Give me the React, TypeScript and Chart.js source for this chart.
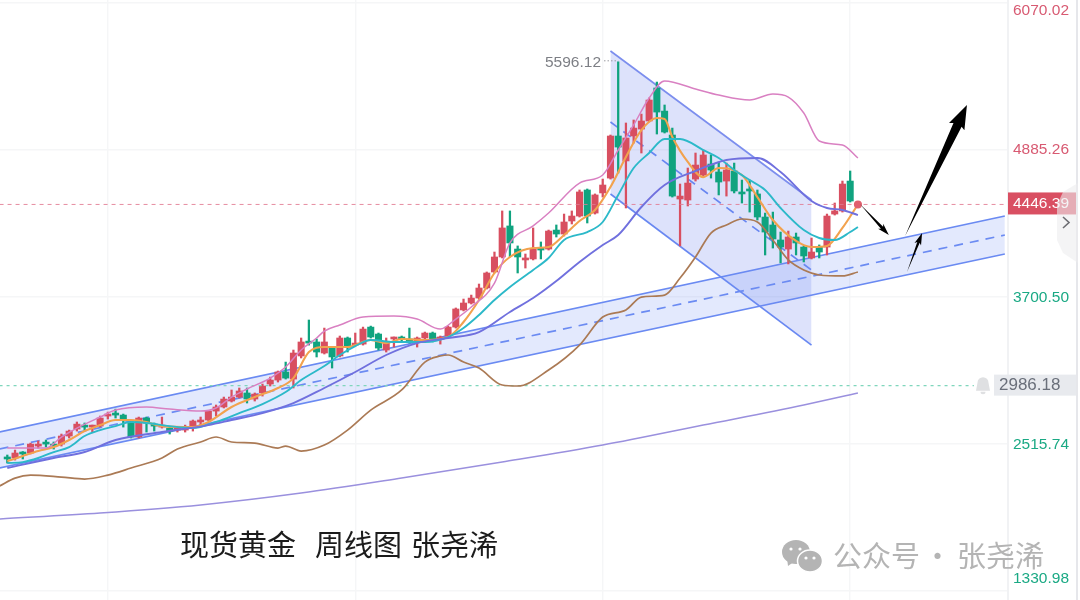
import React, { useEffect, useRef } from "react";
import { Chart, registerables } from "chart.js";

Chart.register(...registerables);

const opens = [
  2403,2403,2451,2443,2499,2523,2507,2515,2580,2636,
  2660,2652,2660,2741,2757,2749,2693,2572,2725,2668,
  2652,2644,2628,2628,2652,2693,2709,2781,2814,2862,
  2894,2927,2878,2927,2999,3031,3096,3039,3225,3338,
  3338,3249,3289,3225,3370,3313,3321,3458,3402,3273,
  3362,3378,3354,3338,3370,3410,3362,3386,3458,3596,
  3652,3692,3773,3902,4023,4273,4087,3999,4007,4095,
  4087,4240,4208,4313,4353,4563,4377,4539,4659,4998,
  4797,4998,5054,5119,5385,5199,5006,4490,4482,4651,
  4684,4772,4708,4635,4716,4547,4563,4531,4345,4281,
  4160,4087,4184,4103,4015,4103,4103,4369,4394,4635,
  4440,
];
const closes = [
  2395,2443,2435,2515,2515,2515,2499,2580,2620,2676,
  2652,2660,2725,2757,2749,2709,2572,2725,2685,2660,
  2660,2620,2636,2644,2701,2701,2781,2814,2878,2894,
  2943,2878,2918,2983,3031,3096,3047,3249,3338,3329,
  3257,3338,3217,3370,3297,3329,3442,3378,3289,3329,
  3370,3362,3346,3370,3410,3362,3370,3458,3604,3652,
  3692,3773,3894,4023,4257,4136,4023,4015,4087,4079,
  4232,4208,4305,4353,4547,4353,4523,4603,4998,4909,
  4982,5062,5119,5288,5191,5030,4514,4514,4619,4764,
  4845,4724,4627,4724,4555,4531,4555,4345,4224,4168,
  4103,4184,4136,4031,4063,4063,4353,4394,4611,4474,
  4446.39,
];
const highs = [
  2427,2467,2455,2523,2540,2548,2532,2596,2628,2693,
  2685,2668,2741,2773,2797,2757,2701,2733,2733,2685,
  2733,2652,2644,2668,2709,2733,2785,2830,2894,2951,
  2967,2967,2927,2999,3055,3104,3176,3273,3370,3515,
  3362,3450,3297,3386,3378,3410,3458,3466,3410,3370,
  3378,3386,3450,3378,3418,3418,3386,3466,3612,3684,
  3716,3805,3902,4063,4394,4394,4112,4047,4257,4144,
  4240,4281,4369,4394,4563,4571,4531,4651,5006,5596.12,
  5103,5127,5175,5304,5433,5248,5062,4611,4740,4861,
  4885,4845,4788,4780,4780,4643,4643,4563,4377,4385,
  4224,4232,4216,4112,4176,4120,4369,4458,4635,4716,
  4470,
];
const lows = [
  2362,2386,2395,2435,2483,2491,2475,2499,2564,2620,
  2628,2612,2652,2717,2725,2652,2564,2564,2612,2620,
  2644,2596,2612,2612,2620,2668,2705,2741,2806,2854,
  2886,2846,2862,2902,2983,3015,3039,2967,3209,3313,
  3217,3241,3128,3217,3257,3305,3313,3370,3273,3257,
  3297,3346,3329,3297,3362,3338,3321,3370,3450,3588,
  3644,3684,3765,3894,4015,4023,3894,3934,3999,4007,
  4079,4184,4192,4289,4345,4297,4369,4506,4651,4700,
  4418,4941,4861,5111,5014,5022,4506,4112,4434,4635,
  4676,4659,4523,4514,4539,4458,4385,4321,4039,4095,
  3975,3967,4039,3983,4007,4015,4039,4361,4385,4466,
  4430,
];

const bandUpperIdx = [0,5,7,9,12,14,18,21,25,27,29,31,34,36,38,40,41,43,46,50,53,56,58,60,63,65,68,70,74,77,79,81,83,85,89,92,96,99,101,103,105,108,110];
const bandUpper = [2483,2483,2572,2644,2733,2789,2814,2797,2781,2806,2894,2959,3047,3136,3273,3370,3426,3475,3539,3547,3523,3442,3523,3620,3813,4136,4273,4377,4619,4684,4885,5087,5304,5441,5377,5328,5288,5336,5312,5183,4958,4925,4821];

const ma5Idx = [0,2,4,6,8,10,12,14,16,18,20,24,26,29,32,35,37,39,41,44,47,49,51,54,57,59,61,63,65,68,70,72,74,76,78,80,82,84,85,86,88,90,92,95,97,99,102,104,106,108,110];
const ma5 = [2378,2419,2459,2491,2548,2620,2668,2709,2709,2693,2660,2652,2693,2814,2894,2967,3047,3257,3297,3297,3354,3329,3362,3354,3378,3499,3676,3894,4023,4095,4103,4200,4313,4402,4587,4829,5046,5143,5135,4990,4789,4667,4740,4684,4506,4321,4152,4103,4112,4257,4446];

const ma10Idx = [0,2,4,6,8,10,12,14,16,18,21,24,27,30,33,36,38,41,43,45,47,50,54,57,59,61,63,65,68,70,72,75,77,79,81,83,85,87,90,92,94,96,98,100,103,105,107,109,110];
const ma10 = [2362,2370,2403,2451,2491,2580,2628,2660,2693,2685,2660,2644,2693,2765,2838,2935,3031,3144,3233,3305,3354,3338,3338,3378,3450,3555,3676,3781,3918,4015,4160,4224,4305,4523,4740,4861,4974,4974,4885,4821,4724,4643,4563,4418,4240,4176,4160,4224,4265];

const ma20Idx = [0,6,10,14,20,26,29,33,37,41,45,49,53,57,61,65,68,71,74,77,79,82,85,89,93,97,100,104,106,108,110];
const ma20 = [2322,2403,2451,2548,2612,2668,2709,2765,2846,2967,3096,3233,3329,3370,3418,3580,3692,3829,3983,4120,4200,4426,4603,4716,4805,4821,4708,4474,4418,4402,4361];

const ma60Idx = [-1,1,3,7,10,13,16,20,22,25,27,29,32,35,36,38,41,44,47,51,54,56,57,59,61,64,66,70,74,77,80,82,85,87,89,91,93,95,97,99,101,103,105,108,110];
const ma60 = [2177,2241,2265,2249,2233,2265,2322,2403,2475,2532,2572,2532,2523,2483,2499,2459,2507,2628,2789,2951,3176,3225,3233,3176,3128,2991,2983,3112,3313,3539,3596,3700,3716,3853,4023,4216,4281,4329,4305,4160,3999,3918,3878,3870,3902];

const ma120Idx = [-1,12,25,38,51,64,77,90,103,110];
const ma120 = [1911,1959,2024,2120,2241,2370,2507,2668,2830,2926];

const channelUpX = [-1, 129];
const channelUpTop = [2612, 4353];
const channelUpMid = [2475, 4200];
const channelUpLow = [2322, 4047];

const channelDownX = [78, 104];
const channelDownTop = [5683, 4482];
const channelDownMid = [5111, 3918];
const channelDownLow = [4531, 3313];

const arrowStartX = [110.26, 116.1, 116.35];
const arrowStartY = [4450, 4192, 3902];
const arrowTipX = [114.0, 124.1, 118.3];
const arrowTipY = [4200, 5248, 4216];
const arrowHeadLen = [10, 22, 10];
const arrowHeadWidth = [7, 17, 7];
const arrowShaftWidth = [3, 9, 2.6];

const axisTicks = [1330.98, 2515.74, 3700.5, 4885.26, 6070.02];
const gridWeeks = [13, 45, 77, 109];
const lastPrice = 4446.39;
const alertPrice = 2986.18;
const peakPrice = 5596.12;

const RED = "#d84f60";
const GREEN = "#10a37f";
const UI = "'Liberation Sans', Arial, sans-serif";
const CJK = "'Noto Sans CJK SC', sans-serif";

const weeks = opens.map((_, i) => i);
const pairs = (xs: number[], ys: number[]) => xs.map((x, i) => ({ x, y: ys[i] }));
const candleColors = weeks.map((i) => (closes[i] >= opens[i] ? RED : GREEN));

function maLine(label: string, xs: number[], ys: number[], color: string, width: number) {
  return {
    type: "line", label, data: pairs(xs, ys), borderColor: color, borderWidth: width,
    pointRadius: 0, cubicInterpolationMode: "monotone", fill: false, order: 3,
  };
}
function channelLine(label: string, xs: number[], ys: number[], extra: any = {}) {
  return {
    type: "line", label, data: pairs(xs, ys), borderColor: "#6a8af2", borderWidth: 1.7,
    pointRadius: 0, tension: 0, order: 10, ...extra,
  };
}

const decoPlugin = {
  id: "deco",
  beforeDraw(chart: any) {
    const y = chart.scales.y;
    const items = y.getLabelItems(chart.chartArea);
    items.forEach((it: any) => {
      const v = Number(it.label);
      const t = it.options.translation;
      if (v > 6000) t[1] = 11;
      else if (v < 1400) t[1] = 579;
      else if (v < 2600) t[1] = 445;
      else if (v < 3800) t[1] = 298;
    });
  },
  afterDatasetsDraw(chart: any) {
    const { ctx, scales } = chart;
    const sx = scales.x;
    const sy = scales.y;
    ctx.save();
    // right-hand frame
    ctx.fillStyle = "#f1f2f4";
    ctx.fillRect(1007, 0, 2, 600);
    ctx.fillStyle = "#e6e7eb";
    ctx.fillRect(1076, 0, 2, 600);
    // arrows
    ctx.fillStyle = "#000";
    arrowTipX.forEach((_, i) => {
      const x0 = sx.getPixelForValue(arrowStartX[i]);
      const y0 = sy.getPixelForValue(arrowStartY[i]);
      const x1 = sx.getPixelForValue(arrowTipX[i]);
      const y1 = sy.getPixelForValue(arrowTipY[i]);
      const a = Math.atan2(y1 - y0, x1 - x0);
      const L = Math.hypot(x1 - x0, y1 - y0);
      const hl = arrowHeadLen[i];
      ctx.save();
      ctx.translate(x0, y0);
      ctx.rotate(a);
      ctx.beginPath();
      ctx.moveTo(0, 0);
      ctx.lineTo(L - hl, -arrowShaftWidth[i] / 2);
      ctx.lineTo(L - hl - 2, -arrowHeadWidth[i] / 2);
      ctx.lineTo(L, 0);
      ctx.lineTo(L - hl - 2, arrowHeadWidth[i] / 2);
      ctx.lineTo(L - hl, arrowShaftWidth[i] / 2);
      ctx.closePath();
      ctx.fill();
      ctx.restore();
    });
    // peak label
    const peakI = highs.indexOf(peakPrice);
    const px = sx.getPixelForValue(peakI);
    const py = sy.getPixelForValue(peakPrice);
    ctx.fillStyle = "#7d7f85";
    ctx.font = `15.5px ${UI}`;
    ctx.textAlign = "right";
    ctx.textBaseline = "middle";
    ctx.fillText(peakPrice.toFixed(2), 601, py + 1);
    ctx.strokeStyle = "#9a9ca2";
    ctx.lineWidth = 1;
    ctx.setLineDash([1.5, 2]);
    ctx.beginPath();
    ctx.moveTo(604, py - 1);
    ctx.lineTo(px, py - 1);
    ctx.stroke();
    ctx.setLineDash([]);
    // price tags
    const ly = sy.getPixelForValue(lastPrice);
    ctx.fillStyle = "#d94f62";
    ctx.fillRect(1008, ly - 12, 68, 22);
    ctx.fillStyle = "#fff";
    ctx.font = `15.5px ${UI}`;
    ctx.textAlign = "left";
    ctx.fillText(lastPrice.toFixed(2), 1013, ly - 1);
    const ay = sy.getPixelForValue(alertPrice);
    ctx.fillStyle = "#e8eaee";
    ctx.fillRect(994, ay - 11, 82, 21);
    ctx.fillStyle = "#6a6f7a";
    ctx.font = `17px ${UI}`;
    ctx.fillText(alertPrice.toFixed(2), 999, ay);
    // bell
    ctx.fillStyle = "#dfe0e2";
    ctx.beginPath();
    ctx.arc(983, ay - 3, 5.5, Math.PI, 0);
    ctx.lineTo(990, ay + 5);
    ctx.lineTo(976, ay + 5);
    ctx.closePath();
    ctx.fill();
    ctx.beginPath();
    ctx.arc(983, ay + 6, 2.5, 0, Math.PI);
    ctx.fill();
    // side handle
    ctx.fillStyle = "rgba(236,236,239,0.6)";
    ctx.beginPath();
    ctx.moveTo(1078, 183);
    ctx.lineTo(1063, 192);
    ctx.lineTo(1057, 205);
    ctx.lineTo(1057, 240);
    ctx.lineTo(1063, 253);
    ctx.lineTo(1078, 263);
    ctx.closePath();
    ctx.fill();
    ctx.strokeStyle = "#6d6e73";
    ctx.lineWidth = 1.6;
    ctx.beginPath();
    ctx.moveTo(1063, 217);
    ctx.lineTo(1069, 222.5);
    ctx.lineTo(1063, 228);
    ctx.stroke();
    // caption
    ctx.fillStyle = "#1c1c1c";
    ctx.font = `29px ${CJK}`;
    ctx.textAlign = "left";
    ctx.textBaseline = "middle";
    ctx.fillText("现货黄金", 180, 545);
    ctx.fillText("周线图", 315, 545);
    ctx.fillText("张尧浠", 411, 545);
    // watermark
    ctx.fillStyle = "#b4b4b4";
    ctx.beginPath();
    ctx.ellipse(796, 552, 14, 12, 0, 0, Math.PI * 2);
    ctx.fill();
    ctx.beginPath();
    ctx.moveTo(787, 558);
    ctx.lineTo(788, 566);
    ctx.lineTo(795, 561);
    ctx.fill();
    ctx.strokeStyle = "#fff";
    ctx.lineWidth = 1.5;
    ctx.beginPath();
    ctx.ellipse(810, 561, 12.5, 11, 0, 0, Math.PI * 2);
    ctx.fill();
    ctx.stroke();
    ctx.fillStyle = "#fff";
    [[791, 549], [800, 549], [806, 558], [814, 558]].forEach(([a, b]) => {
      ctx.beginPath();
      ctx.arc(a, b, 1.6, 0, Math.PI * 2);
      ctx.fill();
    });
    ctx.fillStyle = "#b4b4b4";
    ctx.font = `29px ${CJK}`;
    ctx.fillText("公众号", 833, 556);
    ctx.fillText("·", 923, 556);
    ctx.fillText("张尧浠", 957, 556);
    ctx.restore();
  },
};

export default function App() {
  const ref = useRef<HTMLCanvasElement | null>(null);
  useEffect(() => {
    if (!ref.current) return;
    const chart = new Chart(ref.current, {
      data: {
        datasets: [
          channelLine("上升通道上轨", channelUpX, channelUpTop, {
            fill: { target: "+2", above: "rgba(115,145,245,0.2)", below: "rgba(115,145,245,0.2)" },
          }),
          channelLine("上升通道中轨", channelUpX, channelUpMid, { borderDash: [9, 7], fill: false }),
          channelLine("上升通道下轨", channelUpX, channelUpLow, { fill: false }),
          channelLine("下降通道上轨", channelDownX, channelDownTop, {
            borderColor: "#7c8eee",
            fill: { target: "+2", above: "rgba(100,125,235,0.22)", below: "rgba(100,125,235,0.22)" },
          }),
          channelLine("下降通道中轨", channelDownX, channelDownMid, { borderDash: [9, 7], fill: false }),
          channelLine("下降通道下轨", channelDownX, channelDownLow, { fill: false }),
          {
            type: "bar", label: "影线", grouped: false, order: 8,
            data: weeks.map((i) => ({ x: i, y: [lows[i], highs[i]] })),
            backgroundColor: candleColors, barThickness: 1.6, borderWidth: 0,
          },
          {
            type: "bar", label: "实体", grouped: false, order: 7,
            data: weeks.map((i) => ({ x: i, y: [opens[i], closes[i]] })),
            backgroundColor: candleColors, barThickness: 6.4, minBarLength: 2, borderWidth: 0,
          },
          maLine("MA120", ma120Idx, ma120, "#9a90de", 1.5),
          maLine("MA60", ma60Idx, ma60, "#ab7a55", 1.7),
          maLine("MA20", ma20Idx, ma20, "#7070de", 1.9),
          maLine("BOLL", bandUpperIdx, bandUpper, "#d980c2", 1.5),
          maLine("MA10", ma10Idx, ma10, "#2cb9c9", 1.9),
          maLine("MA5", ma5Idx, ma5, "#f2a24e", 2.1),
          {
            type: "line", label: "现价线", data: pairs([-1, 129.28], [lastPrice, lastPrice]),
            borderColor: "rgba(226,120,145,0.85)", borderWidth: 1, borderDash: [4, 4],
            pointRadius: 0, order: 4,
          },
          {
            type: "line", label: "提醒线", data: pairs([-1, 125], [alertPrice, alertPrice]),
            borderColor: "#7fd6bc", borderWidth: 1.2, borderDash: [3, 4],
            pointRadius: 0, order: 4,
          },
          {
            type: "line", label: "现价", data: pairs([110], [lastPrice]), showLine: false,
            pointRadius: 4, pointBackgroundColor: "#e0606e", pointBorderWidth: 0, order: 1,
          },
        ],
      } as any,
      options: {
        animation: false,
        responsive: false,
        devicePixelRatio: 1,
        layout: { padding: 0, autoPadding: false },
        plugins: { legend: { display: false }, title: { display: false }, tooltip: { enabled: false } },
        scales: {
          x: {
            type: "linear", min: -0.944, max: 129.28, offset: false,
            border: { display: false },
            grid: { color: "#f5f6f7", lineWidth: 1.4, drawTicks: false, offset: false },
            ticks: { display: false },
            afterBuildTicks: (s: any) => { s.ticks = gridWeeks.map((value) => ({ value })); },
            afterFit: (s: any) => { s.height = 0; s.paddingLeft = 0; s.paddingRight = 0; },
          },
          y: {
            type: "linear", position: "right", min: 1258.4, max: 6094.2,
            border: { display: false },
            grid: { color: "#f5f6f7", lineWidth: 1.4, drawTicks: false },
            ticks: {
              autoSkip: false, padding: 6,
              font: { family: UI, size: 15.5 },
              color: (c: any) => (c.tick && c.tick.value >= 4885 ? "#d85a72" : "#1aa984"),
              callback: (v: any) => Number(v).toFixed(2),
            },
            afterBuildTicks: (s: any) => { s.ticks = axisTicks.map((value) => ({ value })); },
            afterFit: (s: any) => { s.width = 73; s.paddingTop = 0; s.paddingBottom = 0; },
          },
        },
      } as any,
      plugins: [decoPlugin as any],
    });
    return () => chart.destroy();
  }, []);
  return (
    <div style={{ position: "fixed", left: 0, top: 0, width: 1080, height: 600, background: "#fff" }}>
      <canvas ref={ref} width={1080} height={600} style={{ display: "block" }} />
    </div>
  );
}
